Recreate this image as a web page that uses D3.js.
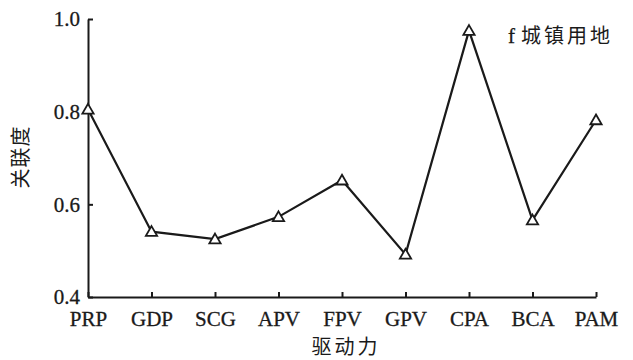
<!DOCTYPE html>
<html><head><meta charset="utf-8">
<script src="https://cdn.jsdelivr.net/npm/d3@7"></script>
<style>body{margin:0;background:#fff}svg{display:block}</style>
</head><body>
<svg id="c" width="633" height="360"></svg>
<script>
const categories = ["PRP","GDP","SCG","APV","FPV","GPV","CPA","BCA","PAM"];
const values = [0.805,0.541,0.525,0.573,0.652,0.492,0.975,0.566,0.782];
const yTicks = [0.4,0.6,0.8,1.0];
const yLabel = "关联度";
const xLabel = "驱动力";
const legendPrefix = "f";
const legendText = "城镇用地";

const svg = d3.select("#c");
const m = {l:88, r:37, t:19, b:63};
const W = 633, H = 360;
const x = d3.scalePoint().domain(categories).range([m.l, W-m.r]).padding(0);
const y = d3.scaleLinear().domain([0.4,1.0]).range([H-m.b, m.t]);
const ink = "#1a1a1a";
const serif = "'Liberation Serif','Times New Roman',serif";
const cjk = "'Noto Sans CJK SC',sans-serif";

const ya = svg.append("g").attr("transform",`translate(${m.l},0)`)
  .call(d3.axisLeft(y).tickValues(yTicks).tickFormat(d3.format(".1f")).tickSizeInner(-5).tickSizeOuter(0).tickPadding(8));
ya.selectAll("text").attr("font-family",serif).attr("font-size",21).attr("fill",ink)
  .attr("stroke",ink).attr("stroke-width",0.3);
ya.selectAll("line,path").attr("stroke",ink).attr("stroke-width",2);

const xa = svg.append("g").attr("transform",`translate(0,${H-m.b})`)
  .call(d3.axisBottom(x).tickSizeInner(-5).tickSizeOuter(0).tickPadding(14));
xa.selectAll("text").attr("font-family",serif).attr("font-size",21).attr("fill",ink)
  .attr("stroke",ink).attr("stroke-width",0.3);
xa.selectAll("line,path").attr("stroke",ink).attr("stroke-width",2);

const line = d3.line().x((d,i)=>x(categories[i])).y(d=>y(d));
svg.append("path").datum(values).attr("d",line).attr("fill","none").attr("stroke",ink).attr("stroke-width",2.2);

const tri = d3.symbol().type(d3.symbolTriangle).size(55);
svg.selectAll(".pt").data(values).enter().append("path")
  .attr("transform",(d,i)=>`translate(${x(categories[i])},${y(d)+1})`)
  .attr("d",tri).attr("fill","#fff").attr("stroke",ink).attr("stroke-width",1.8);

svg.append("text").attr("transform",`translate(28,157) rotate(-90)`).attr("text-anchor","middle")
  .attr("font-family",cjk).attr("font-size",20).attr("fill",ink).attr("letter-spacing",1).text(yLabel);
svg.append("text").attr("x",346).attr("y",354).attr("text-anchor","middle")
  .attr("font-family",cjk).attr("font-size",20).attr("fill",ink).attr("letter-spacing",3).text(xLabel);
const lg = svg.append("text").attr("x",508).attr("y",43).attr("fill",ink);
lg.append("tspan").attr("font-family",serif).attr("font-size",21).attr("stroke",ink).attr("stroke-width",0.3).text(legendPrefix);
lg.append("tspan").attr("dx",6).attr("font-family",cjk).attr("font-size",20).attr("letter-spacing",3).text(legendText);
</script>
</body></html>
